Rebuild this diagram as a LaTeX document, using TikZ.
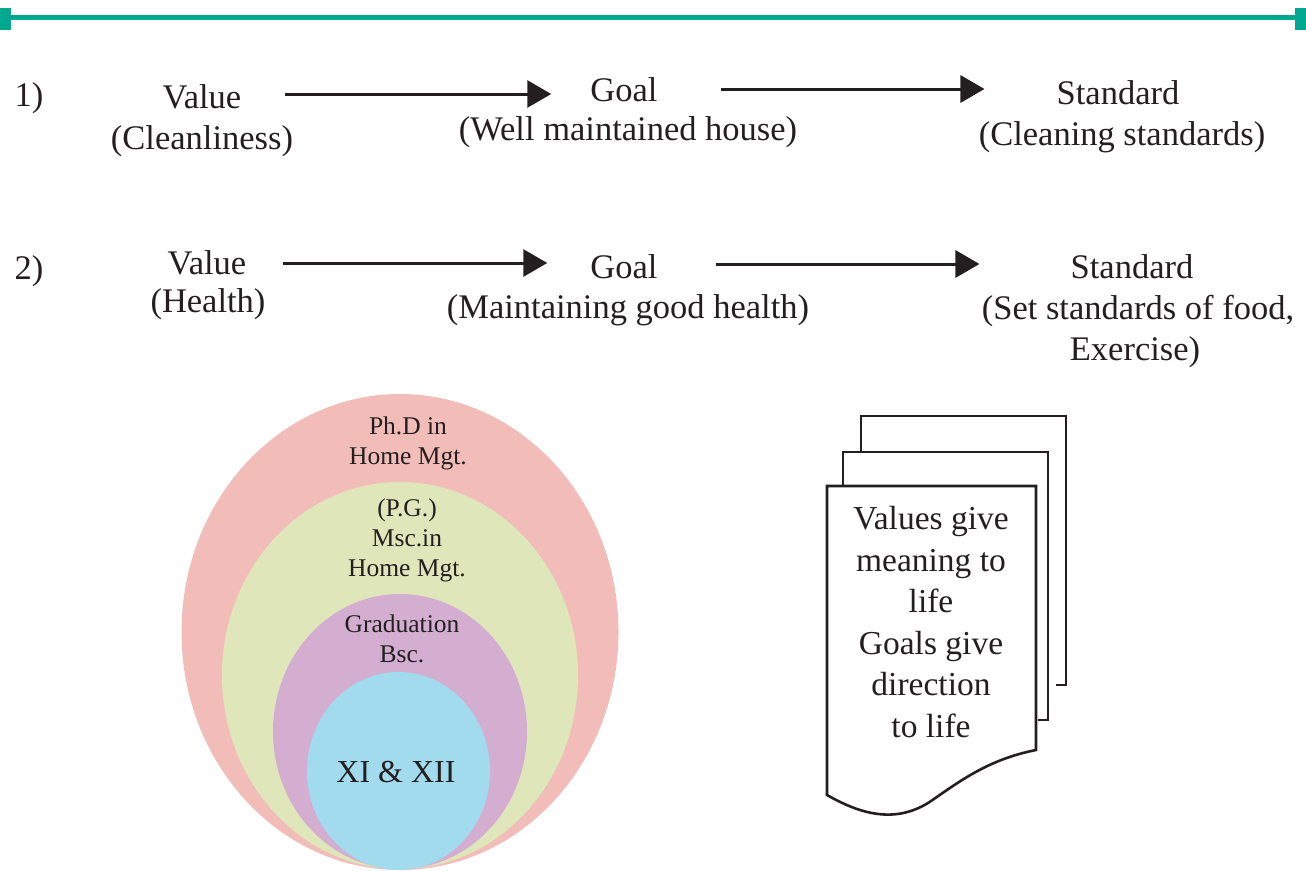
\documentclass[tikz,border=0pt]{standalone}
\usepackage{fontspec}
\setmainfont{Liberation Serif}
\usetikzlibrary{arrows.meta,shapes.geometric}
\definecolor{bar}{RGB}{0,168,143}
\definecolor{pinkc}{HTML}{F2BDB8}
\definecolor{greenc}{HTML}{DFE6BA}
\definecolor{purplec}{HTML}{D3AED1}
\definecolor{bluec}{HTML}{A3DBEE}
\definecolor{ink}{HTML}{231F20}
\begin{document}
\begin{tikzpicture}[x=1pt,y=-1pt,
  rowtxt/.style={inner sep=0pt,text=ink,font=\fontsize{34.5}{42}\selectfont},
  elltxt/.style={inner sep=0pt,text=ink,align=center,font=\fontsize{25.5}{30}\selectfont},
  doctxt/.style={inner sep=0pt,text=ink,align=center,font=\fontsize{33.5}{41.5}\selectfont},
  arr/.style={line width=3pt,draw=ink,-{Triangle[length=24pt,width=27pt]}},
  page/.style={draw=ink,line width=2.6pt,fill=white,line join=miter}]
\useasboundingbox (0,0) rectangle (1306,870);
% top bar
\draw[bar,line width=5pt] (0,17) -- (1306,17);
\fill[bar] (0,8) rectangle (11,30);
\fill[bar] (1295,8) rectangle (1306,30);
% row 1
\node[rowtxt] (n1) at (29,98) {1)};
\node[rowtxt] (val1) at (202,97) {Value};
\node[rowtxt] (val1b) at (202,141) {(Cleanliness)};
\node[rowtxt] (goal1) at (624,90) {Goal};
\node[rowtxt] (goal1b) at (628,132) {(Well maintained house)};
\node[rowtxt] (std1) at (1118,93) {Standard};
\node[rowtxt] (std1b) at (1122,137) {(Cleaning standards)};
\draw[arr] ([xshift=44pt,yshift=3pt]val1.east) -- ([xshift=-39pt,yshift=-4pt]goal1.west);
\draw[arr] ([xshift=63pt,yshift=1pt]goal1.east) -- ([xshift=-72pt,yshift=4pt]std1.west);
% row 2
\node[rowtxt] (n2) at (29,271) {2)};
\node[rowtxt] (val2) at (207,263) {Value};
\node[rowtxt] (val2b) at (208,304) {(Health)};
\node[rowtxt] (goal2) at (624,267) {Goal};
\node[rowtxt] (goal2b) at (628,310) {(Maintaining good health)};
\node[rowtxt] (std2) at (1132,267) {Standard};
\node[rowtxt] (std2b) at (1138,311) {(Set standards of food,};
\node[rowtxt] (std2c) at (1135,352) {Exercise)};
\draw[arr] ([xshift=37pt]val2.east) -- ([xshift=-43pt,yshift=4pt]goal2.west);
\draw[arr] ([xshift=58pt,yshift=3pt]goal2.east) -- ([xshift=-91pt,yshift=3pt]std2.west);
% nested ellipses
\fill[pinkc] (400,632) ellipse [x radius=218.5, y radius=238];
\fill[greenc] (400,675.5) ellipse [x radius=178, y radius=193.5];
\fill[purplec] (400,731.5) ellipse [x radius=127, y radius=137.5];
\fill[bluec] (398.5,771) ellipse [x radius=91.5, y radius=99];
\node[elltxt] (phd) at (408,443) {Ph.D in\\Home Mgt.};
\node[elltxt] (pg) at (407,540) {(P.G.)\\Msc.in\\Home Mgt.};
\node[elltxt] (grad) at (402,639) {Graduation\\Bsc.};
\node[inner sep=0pt,text=ink,font=\fontsize{32}{38}\selectfont] (xi) at (396,772) {XI \& XII};
% document stack
\draw[page] (1056,685) -- (1066,685) -- (1066,416) -- (861,416) -- (861,452);
\draw[page] (1038,720) -- (1048,720) -- (1048,452) -- (843,452) -- (843,486);
\draw[page] (827,486) -- (1036,486) -- (1036,750)
  .. controls (985,760) and (955,785) .. (928,803)
  .. controls (895,823) and (862,815) .. (827,795) -- cycle;
\node[doctxt] (doc) at (931,622) {Values give\\meaning to\\life\\Goals give\\direction\\to life};
\end{tikzpicture}
\end{document}
